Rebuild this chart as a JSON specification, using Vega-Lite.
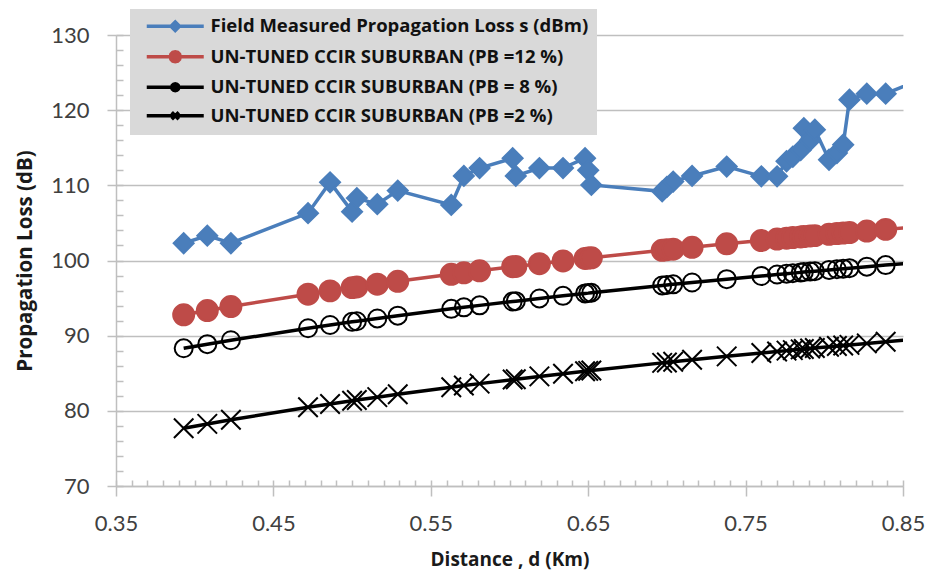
{
  "$schema": "https://vega.github.io/schema/vega-lite/v6.json",
  "width": 787,
  "height": 451,
  "autosize": {"type": "none"},
  "padding": {"left": 116, "top": 35, "right": 27, "bottom": 90},
  "background": "white",
  "config": {
    "view": {"stroke": null},
    "font": "Lato",
    "legend": {
      "title": null, "orient": "none", "legendX": 14, "legendY": -26,
      "fillColor": "#d9d9d9", "padding": 8, "symbolSize": 100, "symbolStrokeWidth": 3.5,
      "symbolOffset": 28, "labelFont": "Open Sans", "labelFontSize": 18.5, "labelFontWeight": "bold",
      "labelColor": "#111111", "labelOffset": 26, "rowPadding": 6.5, "labelLimit": 0
    }
  },
  "data": {
    "values": [
      {"d": 0.393, "s1": 102.3, "s2": 92.78, "s3": 88.32, "s4": 77.69},
      {"d": 0.408, "s1": 103.3, "s2": 93.34, "s3": 88.87, "s4": 78.26},
      {"d": 0.423, "s1": 102.3, "s2": 93.88, "s3": 89.39, "s4": 78.81},
      {"d": 0.472, "s1": 106.3, "s2": 95.52, "s3": 90.99, "s4": 80.47},
      {"d": 0.486, "s1": 110.4, "s2": 95.96, "s3": 91.42, "s4": 80.91},
      {"d": 0.500, "s1": 106.5, "s2": 96.39, "s3": 91.84, "s4": 81.35},
      {"d": 0.503, "s1": 108.3, "s2": 96.48, "s3": 91.92, "s4": 81.44},
      {"d": 0.516, "s1": 107.5, "s2": 96.85, "s3": 92.29, "s4": 81.82},
      {"d": 0.529, "s1": 109.3, "s2": 97.23, "s3": 92.66, "s4": 82.20},
      {"d": 0.563, "s1": 107.4, "s2": 98.16, "s3": 93.57, "s4": 83.14},
      {"d": 0.571, "s1": 111.25, "s2": 98.37, "s3": 93.77, "s4": 83.36},
      {"d": 0.581, "s1": 112.3, "s2": 98.63, "s3": 94.03, "s4": 83.62},
      {"d": 0.602, "s1": 113.6, "s2": 99.17, "s3": 94.54, "s4": 84.16},
      {"d": 0.604, "s1": 111.25, "s2": 99.21, "s3": 94.59, "s4": 84.21},
      {"d": 0.619, "s1": 112.3, "s2": 99.58, "s3": 94.95, "s4": 84.58},
      {"d": 0.634, "s1": 112.3, "s2": 99.94, "s3": 95.30, "s4": 84.94},
      {"d": 0.648, "s1": 113.6, "s2": 100.27, "s3": 95.62, "s4": 85.27},
      {"d": 0.650, "s1": 112.0, "s2": 100.32, "s3": 95.66, "s4": 85.32},
      {"d": 0.652, "s1": 110.05, "s2": 100.36, "s3": 95.71, "s4": 85.37},
      {"d": 0.697, "s1": 109.2, "s2": 101.36, "s3": 96.68, "s4": 86.38},
      {"d": 0.700, "s1": 109.8, "s2": 101.43, "s3": 96.75, "s4": 86.44},
      {"d": 0.704, "s1": 110.5, "s2": 101.51, "s3": 96.83, "s4": 86.53},
      {"d": 0.716, "s1": 111.25, "s2": 101.76, "s3": 97.07, "s4": 86.79},
      {"d": 0.738, "s1": 112.5, "s2": 102.22, "s3": 97.52, "s4": 87.25},
      {"d": 0.760, "s1": 111.2, "s2": 102.66, "s3": 97.94, "s4": 87.69},
      {"d": 0.770, "s1": 111.2, "s2": 102.85, "s3": 98.14, "s4": 87.89},
      {"d": 0.776, "s1": 113.2, "s2": 102.97, "s3": 98.25, "s4": 88.01},
      {"d": 0.780, "s1": 113.8, "s2": 103.05, "s3": 98.32, "s4": 88.08},
      {"d": 0.785, "s1": 114.7, "s2": 103.14, "s3": 98.42, "s4": 88.18},
      {"d": 0.787, "s1": 117.6, "s2": 103.18, "s3": 98.46, "s4": 88.22},
      {"d": 0.791, "s1": 116.0, "s2": 103.26, "s3": 98.53, "s4": 88.30},
      {"d": 0.794, "s1": 117.4, "s2": 103.31, "s3": 98.58, "s4": 88.35},
      {"d": 0.803, "s1": 113.4, "s2": 103.48, "s3": 98.75, "s4": 88.52},
      {"d": 0.808, "s1": 114.3, "s2": 103.58, "s3": 98.84, "s4": 88.62},
      {"d": 0.812, "s1": 115.4, "s2": 103.65, "s3": 98.91, "s4": 88.70},
      {"d": 0.816, "s1": 121.4, "s2": 103.72, "s3": 98.98, "s4": 88.77},
      {"d": 0.827, "s1": 122.2, "s2": 103.92, "s3": 99.18, "s4": 88.97},
      {"d": 0.839, "s1": 122.2, "s2": 104.14, "s3": 99.39, "s4": 89.19},
      {"d": 0.860, "s1": 124.0, "s2": 104.51, "s3": 99.75, "s4": 89.56}
    ]
  },
  "transform": [{"fold": ["s1", "s2", "s3", "s4"], "as": ["series", "loss"]}],
  "layer": [
    {
      "mark": {"type": "line", "strokeWidth": 3.5, "clip": true},
      "encoding": {
        "x": {
          "field": "d", "type": "quantitative",
          "scale": {"domain": [0.35, 0.85], "nice": false, "zero": false},
          "axis": {
            "orient": "bottom",
            "values": [0.35, 0.45, 0.55, 0.65, 0.75, 0.85],
            "format": ".2f",
            "title": "Distance , d (Km)",
            "grid": false,
            "domainColor": "#bfbfbf", "domainWidth": 1.5,
            "tickColor": "#bfbfbf", "tickWidth": 1.5, "tickSize": 10,
            "labelFont": "Lato", "labelFontSize": 22, "labelColor": "#404040",
            "labelPadding": 17, "labelFlush": false,
            "titleFont": "Open Sans", "titleFontSize": 19, "titleFontWeight": "bold", "titleColor": "#1a1a1a",
            "titlePadding": 16
          }
        },
        "y": {
          "field": "loss", "type": "quantitative",
          "scale": {"domain": [70, 130], "nice": false, "zero": false},
          "axis": {
            "orient": "left",
            "values": [70, 80, 90, 100, 110, 120, 130],
            "title": "Propagation  Loss (dB)",
            "grid": true, "gridColor": "#bfbfbf", "gridWidth": 1.5,
            "domainColor": "#bfbfbf", "domainWidth": 1.5,
            "tickColor": "#bfbfbf", "tickWidth": 1.5, "tickSize": 9,
            "labelFont": "Lato", "labelFontSize": 22, "labelColor": "#404040",
            "labelPadding": 18,
            "titleFont": "Open Sans", "titleFontSize": 20.5, "titleFontWeight": "bold", "titleColor": "#1a1a1a",
            "titlePadding": 15
          }
        },
        "color": {
          "field": "series", "type": "nominal",
          "scale": {"domain": ["s1", "s2", "s3", "s4"], "range": ["#4a7ebb", "#be4b48", "#000000", "#000000"]},
          "legend": null
        }
      }
    },
    {
      "mark": {"type": "point", "opacity": 1, "strokeWidth": 2, "clip": true},
      "encoding": {
        "x": {
          "field": "d", "type": "quantitative",
          "axis": {
            "orient": "bottom",
            "values": [0.35,0.36,0.37,0.38,0.39,0.40,0.41,0.42,0.43,0.44,0.45,0.46,0.47,0.48,0.49,0.50,0.51,0.52,0.53,0.54,0.55,0.56,0.57,0.58,0.59,0.60,0.61,0.62,0.63,0.64,0.65,0.66,0.67,0.68,0.69,0.70,0.71,0.72,0.73,0.74,0.75,0.76,0.77,0.78,0.79,0.80,0.81,0.82,0.83,0.84,0.85],
            "offset": -6, "tickSize": 6, "tickColor": "#bfbfbf", "tickWidth": 1.5,
            "labels": false, "domain": false, "grid": false, "title": null
          }
        },
        "y": {
          "field": "loss", "type": "quantitative",
          "axis": {
            "orient": "left",
            "values": [70,72,74,76,78,80,82,84,86,88,90,92,94,96,98,100,102,104,106,108,110,112,114,116,118,120,122,124,126,128,130],
            "offset": -7, "tickSize": 7, "tickColor": "#bfbfbf", "tickWidth": 1.5,
            "labels": false, "domain": false, "grid": false, "title": null
          }
        },
        "shape": {
          "field": "series", "type": "nominal",
          "scale": {"domain": ["s1", "s2", "s3", "s4"], "range": ["diamond", "circle", "circle", "M-1,-1L1,1M-1,1L1,-1"]},
          "legend": null
        },
        "fill": {
          "field": "series", "type": "nominal",
          "scale": {"domain": ["s1", "s2", "s3", "s4"], "range": ["#4a7ebb", "#be4b48", "transparent", "transparent"]},
          "legend": null
        },
        "stroke": {
          "field": "series", "type": "nominal",
          "scale": {"domain": ["s1", "s2", "s3", "s4"], "range": ["#4a7ebb", "#be4b48", "#000000", "#000000"]},
          "legend": null
        },
        "size": {
          "condition": [
            {"test": "datum.series === 's2'", "value": 440},
            {"test": "datum.series === 's3'", "value": 324},
            {"test": "datum.series === 's4'", "value": 380}
          ],
          "value": 400
        }
      }
    },
    {
      "transform": [{"filter": "false"}],
      "mark": {"type": "point", "opacity": 1, "clip": true},
      "encoding": {
        "x": {"field": "d", "type": "quantitative", "axis": null},
        "y": {"field": "loss", "type": "quantitative", "axis": null},
        "shape": {
          "field": "series", "type": "nominal",
          "scale": {"domain": ["s1", "s2", "s3", "s4"], "range": [
            "M-5.7,0L5.7,0M0,-0.85L0.85,0L0,0.85L-0.85,0Z",
            "M-5.7,0L5.7,0M1,0L0.866,0.5L0.5,0.866L0,1L-0.5,0.866L-0.866,0.5L-1,0L-0.866,-0.5L-0.5,-0.866L0,-1L0.5,-0.866L0.866,-0.5Z",
            "M-5.7,0L5.7,0M0.7,0L0.606,0.35L0.35,0.606L0,0.7L-0.35,0.606L-0.606,0.35L-0.7,0L-0.606,-0.35L-0.35,-0.606L0,-0.7L0.35,-0.606L0.606,-0.35Z",
            "M-5.7,0L5.7,0M-0.7,-0.7L0.7,0.7M-0.7,0.7L0.7,-0.7"
          ]},
          "legend": {
            "labelExpr": "datum.label === 's1' ? 'Field Measured Propagation Loss s (dBm)' : datum.label === 's2' ? 'UN-TUNED CCIR SUBURBAN (PB =12 %)' : datum.label === 's3' ? 'UN-TUNED CCIR SUBURBAN (PB = 8 %)' : 'UN-TUNED CCIR SUBURBAN (PB =2 %)'"
          }
        },
        "fill": {
          "field": "series", "type": "nominal",
          "scale": {"domain": ["s1", "s2", "s3", "s4"], "range": ["#4a7ebb", "#be4b48", "transparent", "transparent"]},
          "legend": {
            "labelExpr": "datum.label === 's1' ? 'Field Measured Propagation Loss s (dBm)' : datum.label === 's2' ? 'UN-TUNED CCIR SUBURBAN (PB =12 %)' : datum.label === 's3' ? 'UN-TUNED CCIR SUBURBAN (PB = 8 %)' : 'UN-TUNED CCIR SUBURBAN (PB =2 %)'"
          }
        },
        "stroke": {
          "field": "series", "type": "nominal",
          "scale": {"domain": ["s1", "s2", "s3", "s4"], "range": ["#4a7ebb", "#be4b48", "#000000", "#000000"]},
          "legend": {
            "labelExpr": "datum.label === 's1' ? 'Field Measured Propagation Loss s (dBm)' : datum.label === 's2' ? 'UN-TUNED CCIR SUBURBAN (PB =12 %)' : datum.label === 's3' ? 'UN-TUNED CCIR SUBURBAN (PB = 8 %)' : 'UN-TUNED CCIR SUBURBAN (PB =2 %)'"
          }
        }
      }
    }
  ],
  "resolve": {
    "axis": {"x": "independent", "y": "independent"},
    "scale": {"shape": "independent", "fill": "independent", "stroke": "independent"}
  }
}
